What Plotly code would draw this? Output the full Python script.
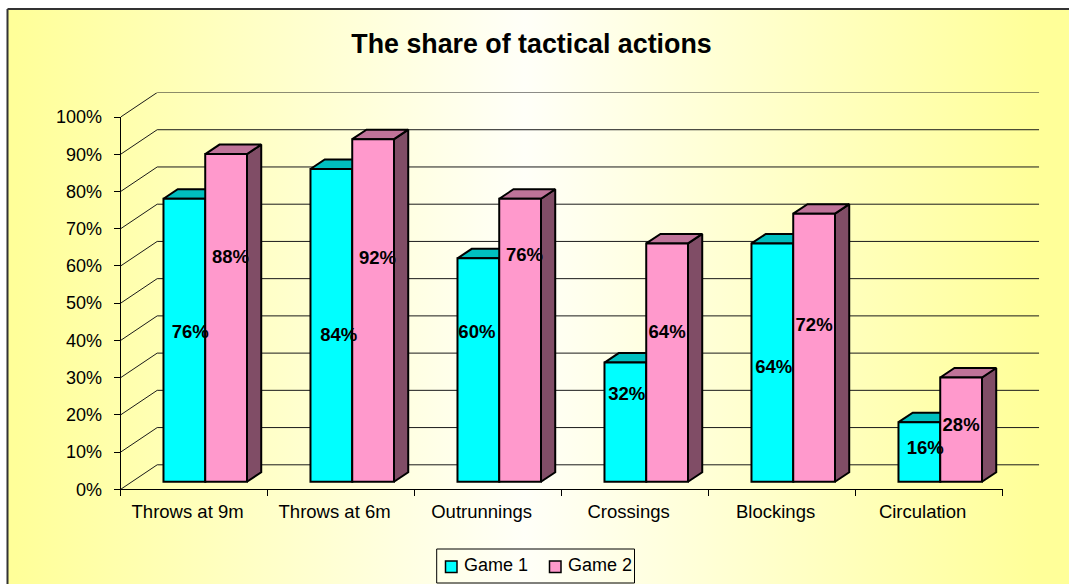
import plotly.graph_objects as go

# ---- data ----
categories = ["Throws at 9m", "Throws at 6m", "Outrunnings", "Crossings", "Blockings", "Circulation"]
series_names = ["Game 1", "Game 2"]
game1 = [76, 84, 60, 32, 64, 16]
game2 = [88, 92, 76, 64, 72, 28]
y_ticks = list(range(0, 101, 10))

# hand-placed label anchors in the reference (height in axis %, sideways shift in categories)
label_h1 = [42.0, 41.2, 42.0, 25.3, 32.6, 10.6]
label_h2 = [62.0, 61.8, 62.6, 42.0, 43.8, 17.0]
label_dx1 = [0.04, 0.05, -0.01, 0.01, 0.01, 0.04]
label_dx2 = [0.03, 0.03, 0.03, 0.0, 0.0, 0.0]

# ---- style / layout constants ----
W, H = 1069, 584
AX_L, AX_R, AX_T, AX_B = 120.7, 1002.7, 117.0, 489.3
WALL_DX, WALL_DY = 0.2483, 6.58     # depth of the floor, in axis units
BAR_DX, BAR_DY = 0.097, 2.55        # depth of a bar, in axis units
BAR_W = 0.284
BAR_C = 0.575
BAR_BASE = 2.04
TICK_SHIFT = 0.455                  # category label position inside its slot
FONT = "Liberation Sans, Arial, sans-serif"
CYAN, CYAN_TOP, CYAN_SIDE = "#00FFFF", "#00BFBF", "#008080"
PINK, PINK_TOP, PINK_SIDE = "#FF99CC", "#BF7399", "#804D66"
EDGE = "#000000"
LW = 2
# legend box and entries, in page pixels
LEG_BOX = (436.7, 634.5, 549, 583)
LEG_SWATCH_X = (445.5, 549.5)
LEG_TEXT_X = (464, 568)
LEG_Y = 566.5

px_per_cat = (AX_R - AX_L) / 6
px_per_pct = (AX_B - AX_T) / 100

fig = go.Figure()

# background panel on its own full-page axes
fig.add_trace(go.Scatter(
    x=[7.5, 1100, 1100, 7.5, 7.5], y=[9, 9, 620, 620, 9], xaxis="x", yaxis="y",
    mode="lines", line=dict(color="#333333", width=2), fill="toself",
    fillgradient=dict(type="horizontal", start=15, stop=1035,
                      colorscale=[[0, "#FFFF99"], [0.5, "#FFFFF8"], [1, "#FFFF99"]]),
    hoverinfo="skip", showlegend=False))

# slanted + back-wall gridlines, on hidden axes of the same scale that reach the back wall
gx, gy = [], []
for t in y_ticks:
    gx += [0, WALL_DX, 6 + WALL_DX, None]
    gy += [t, t + WALL_DY, t + WALL_DY, None]
fig.add_trace(go.Scatter(x=gx, y=gy, xaxis="x2", yaxis="y2", mode="lines",
                         line=dict(color="#1a1a1a", width=1), cliponaxis=False,
                         hoverinfo="skip", showlegend=False))


def face(xs, ys, color):
    fig.add_trace(go.Scatter(x=xs, y=ys, xaxis="x3", yaxis="y3", mode="lines",
                             fill="toself", fillcolor=color, cliponaxis=False,
                             line=dict(color=EDGE, width=LW), hoverinfo="skip",
                             showlegend=False))


# top and side faces of the columns
for i in range(len(categories)):
    for vals, left, top_c, side_c in ((game1, -BAR_W, CYAN_TOP, CYAN_SIDE), (game2, 0, PINK_TOP, PINK_SIDE)):
        xl = i + BAR_C + left
        xr = xl + BAR_W
        t = BAR_BASE + vals[i]
        face([xr, xr + BAR_DX, xr + BAR_DX, xr, xr],
             [BAR_BASE, BAR_BASE + BAR_DY, t + BAR_DY, t, BAR_BASE], side_c)
        face([xl, xr, xr + BAR_DX, xl + BAR_DX, xl],
             [t, t, t + BAR_DY, t + BAR_DY, t], top_c)

# front faces: real bars on the overlaid axes
xpos = [i + BAR_C for i in range(len(categories))]
for name, vals, off, col in ((series_names[0], game1, -BAR_W, CYAN), (series_names[1], game2, 0, PINK)):
    fig.add_trace(go.Bar(x=xpos, y=vals, base=BAR_BASE, width=BAR_W, offset=off, name=name,
                         xaxis="x4", yaxis="y4", marker=dict(color=col, line=dict(color=EDGE, width=LW)),
                         cliponaxis=False, hoverinfo="skip", showlegend=False))

# value labels
for vals, hs, dxs, off in ((game1, label_h1, label_dx1, -BAR_W / 2), (game2, label_h2, label_dx2, BAR_W / 2)):
    fig.add_trace(go.Scatter(
        x=[p + off + d for p, d in zip(xpos, dxs)], y=hs, xaxis="x4", yaxis="y4",
        mode="text", text=[f"{v}%" for v in vals], textposition="middle center",
        textfont=dict(family=FONT, size=18.5, color="#000000", weight="bold"),
        cliponaxis=False, hoverinfo="skip", showlegend=False))

# legend box, swatches and names
shapes = [dict(type="rect", xref="x", yref="y", x0=LEG_BOX[0], x1=LEG_BOX[1], y0=LEG_BOX[2], y1=LEG_BOX[3],
               line=dict(color="#000000", width=1), fillcolor="rgba(0,0,0,0)", layer="above")]
annotations = []
for sx, tx, col, name in zip(LEG_SWATCH_X, LEG_TEXT_X, (CYAN, PINK), series_names):
    shapes.append(dict(type="rect", xref="x", yref="y", x0=sx, x1=sx + 11.5, y0=LEG_Y - 5.5, y1=LEG_Y + 6,
                       line=dict(color="#000000", width=1.5), fillcolor=col, layer="above"))
    annotations.append(dict(xref="x", yref="y", x=tx, y=LEG_Y - 1.5, text=name, showarrow=False, xanchor="left",
                            yanchor="middle", xshift=-2, font=dict(family=FONT, size=18, color="#000000")))

hidden = dict(visible=False, fixedrange=True)
fig.update_layout(
    width=W, height=H, autosize=False,
    margin=dict(l=0, r=0, t=0, b=0, autoexpand=False),
    paper_bgcolor="#FFFFFF", plot_bgcolor="rgba(0,0,0,0)",
    barmode="overlay", showlegend=False, shapes=shapes, annotations=annotations,
    font=dict(family=FONT, size=18, color="#000000"),
    title=dict(text="<b>The share of tactical actions</b>", x=531.5 / W, xref="paper", xanchor="center",
               y=1 - 44 / H, yref="paper", yanchor="middle",
               font=dict(family=FONT, size=26.8, color="#000000")),
    xaxis=dict(domain=[0, 1], range=[0, W], **hidden),
    yaxis=dict(domain=[0, 1], range=[H, 0], **hidden),
    xaxis2=dict(domain=[AX_L / W, (AX_R + WALL_DX * px_per_cat) / W], range=[0, 6 + WALL_DX], anchor="y2", **hidden),
    yaxis2=dict(domain=[1 - AX_B / H, 1 - (AX_T - WALL_DY * px_per_pct) / H], range=[0, 100 + WALL_DY], anchor="x2", **hidden),
    xaxis3=dict(domain=[AX_L / W, AX_R / W], range=[0, 6], anchor="y3", showgrid=False, zeroline=False,
                tickmode="array", tickvals=[i + TICK_SHIFT for i in range(6)], ticktext=categories,
                ticks="", showline=True, linecolor="#000000", linewidth=1, ticklabelstandoff=5,
                tickfont=dict(family=FONT, size=18.5),
                minor=dict(tickmode="array", tickvals=list(range(7)), ticks="outside", ticklen=6,
                           tickcolor="#000000", tickwidth=1), fixedrange=True),
    yaxis3=dict(domain=[1 - AX_B / H, 1 - AX_T / H], range=[0, 100], anchor="x3", showgrid=False, zeroline=False,
                tickmode="array", tickvals=y_ticks, ticktext=[f"{t}%" for t in y_ticks],
                ticks="outside", ticklen=6, tickcolor="#000000", tickwidth=1, showline=True,
                linecolor="#000000", linewidth=1, tickfont=dict(family=FONT, size=18),
                ticklabelstandoff=8, fixedrange=True),
    xaxis4=dict(overlaying="x3", range=[0, 6], anchor="y4", visible=False, fixedrange=True),
    yaxis4=dict(overlaying="y3", range=[0, 100], anchor="x4", visible=False, fixedrange=True),
)
fig.write_html("out.html", config={"displayModeBar": False},
               post_script="document.body.style.margin='0';document.body.style.overflow='hidden';")
